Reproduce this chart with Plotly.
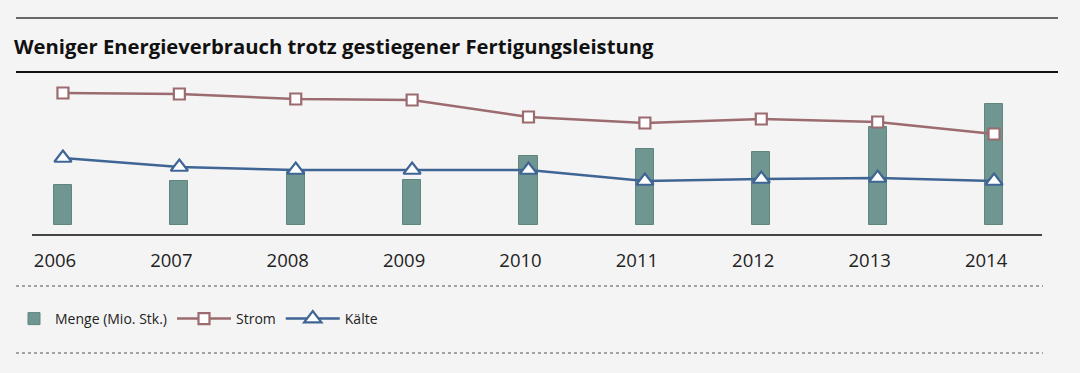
import plotly.graph_objects as go

# ---- data (no y axis shown, arbitrary units) ----
years = [2006, 2007, 2008, 2009, 2010, 2011, 2012, 2013, 2014]
menge = [40, 44, 53, 45, 69, 76, 73, 98, 121]
strom = [132, 131, 126, 125, 108, 102, 106, 103, 91]
kaelte = [67, 58, 55, 55, 55, 44, 46, 47, 44]
title_text = "Weniger Energieverbrauch trotz gestiegener Fertigungsleistung"
names = ["Menge (Mio. Stk.)", "Strom", "Kälte"]

# ---- layout geometry (pixels) ----
W, H = 1080, 373
L, R = 32, 1042          # plot area left/right
T, B = 80, 234           # plot area top/bottom
PW, PH = R - L, B - T

def px2x(px):
    return (px - L) / PW

def px2y(py):
    return (B - py) / PH

BG = "#f4f4f4"
BAR = "#6f9690"
BAR_EDGE = "#5f857f"
STROM = "#9b6b6f"
KAELTE = "#3f6595"
FONT = "Open Sans"

fig = go.Figure()
fig.add_trace(go.Bar(
    x=years, y=menge, name=names[0], width=0.155, legend="legend",
    marker=dict(color=BAR, line=dict(color=BAR_EDGE, width=1)),
))
fig.add_trace(go.Scatter(
    x=years, y=strom, name=names[1], mode="lines+markers", legend="legend2",
    line=dict(color=STROM, width=2.5),
    marker=dict(symbol="square", size=11, color="white",
                line=dict(color=STROM, width=2.2)),
))
fig.add_trace(go.Scatter(
    x=years, y=kaelte, name=names[2], mode="lines+markers", legend="legend2",
    line=dict(color=KAELTE, width=2.5),
    marker=dict(symbol="triangle-up", size=15, color="white",
                line=dict(color=KAELTE, width=2.2)),
))

shapes = [
    dict(type="line", xref="paper", yref="paper", x0=px2x(16), x1=px2x(1058),
         y0=px2y(18), y1=px2y(18), line=dict(color="#3a3a3a", width=1.5)),
    dict(type="line", xref="paper", yref="paper", x0=px2x(16), x1=px2x(1058),
         y0=px2y(72), y1=px2y(72), line=dict(color="#111111", width=2)),
    dict(type="line", xref="paper", yref="paper", x0=px2x(16), x1=px2x(1043),
         y0=px2y(286), y1=px2y(286), line=dict(color="#888888", width=1.5, dash="dot")),
    dict(type="line", xref="paper", yref="paper", x0=px2x(16), x1=px2x(1043),
         y0=px2y(353), y1=px2y(353), line=dict(color="#888888", width=1.5, dash="dot")),
]

legend_font = dict(size=14, family=FONT, color="#222222")
fig.update_layout(
    width=W, height=H,
    margin=dict(l=L, r=W - R, t=T, b=H - B, pad=0),
    paper_bgcolor=BG, plot_bgcolor=BG,
    font=dict(family=FONT, color="#222222"),
    showlegend=True,
    legend=dict(orientation="h", x=px2x(13), xanchor="left",
                y=px2y(319), yanchor="middle", font=legend_font,
                bgcolor="rgba(0,0,0,0)", itemwidth=32, traceorder="normal"),
    legend2=dict(orientation="h", x=px2x(172), xanchor="left",
                 y=px2y(319), yanchor="middle", font=legend_font,
                 bgcolor="rgba(0,0,0,0)", itemwidth=54, traceorder="normal"),
    shapes=shapes,
    bargap=0,
    annotations=[dict(text="<b>" + title_text + "</b>", xref="paper", yref="paper",
                      x=px2x(12), y=px2y(46), xanchor="left", yanchor="middle",
                      showarrow=False, font=dict(size=20.25, family=FONT, color="#111111"))],
)
fig.update_xaxes(
    range=[2005.734, 2014.412], tickmode="array", tickvals=years,
    ticktext=[str(y) for y in years], showgrid=False, zeroline=False,
    showline=True, linecolor="#444444", linewidth=1.5,
    ticks="", ticklabelstandoff=9, ticklabelshift=-8,
    tickfont=dict(size=18.5, family=FONT, color="#222222"),
)
fig.update_yaxes(range=[-9, 145], visible=False, showgrid=False, zeroline=False)

fig.write_html("out.html", config={"displayModeBar": False},
               post_script="document.body.style.margin='0px';")
